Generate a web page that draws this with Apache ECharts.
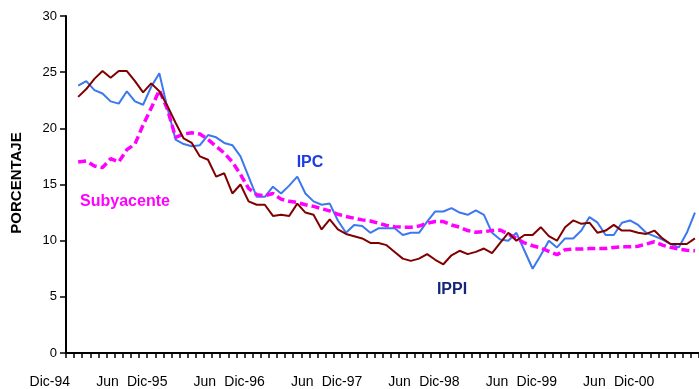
<!DOCTYPE html>
<html>
<head>
<meta charset="utf-8">
<script src="https://cdn.jsdelivr.net/npm/echarts@6/dist/echarts.min.js"></script>
<style>
  html, body { margin: 0; padding: 0; background: #fff; }
  #chart { width: 699px; height: 389px; }
</style>
</head>
<body>
<div id="chart"></div>
<script>
// Monthly categories, Dec-1994 .. May-2001
const monthNames = ['Ene','Feb','Mar','Abr','May','Jun','Jul','Ago','Sep','Oct','Nov','Dic'];
const categories = [];
for (let i = 0; i < 78; i++) {
  const m = (11 + i) % 12;
  const y = (94 + Math.floor((11 + i) / 12)) % 100;
  categories.push(monthNames[m] + '-' + String(y).padStart(2, '0'));
}

// One label every six months
const tickLabels = ['Dic-94','Jun','Dic-95','Jun','Dic-96','Jun','Dic-97','Jun','Dic-98','Jun','Dic-99','Jun','Dic-00'];

// Annual variation (%)
const ipc = [null,
  23.8, 24.2, 23.4, 23.1, 22.4, 22.2, 23.3, 22.4, 22.1, 23.7,
  24.9, 21.8, 19.0, 18.6, 18.4, 18.5, 19.4, 19.2, 18.7, 18.5,
  17.5, 15.7, 13.9, 13.9, 14.8, 14.2, 14.9, 15.7, 14.2, 13.5,
  13.2, 13.3, 11.8, 10.7, 11.4, 11.3, 10.7, 11.1, 11.1, 11.1,
  10.5, 10.7, 10.7, 11.7, 12.6, 12.6, 12.9, 12.5, 12.3, 12.7,
  12.3, 10.7, 10.1, 10.0, 10.7, 9.1, 7.5, 8.7, 10.0, 9.4,
  10.2, 10.2, 10.9, 12.1, 11.6, 10.5, 10.5, 11.6, 11.8, 11.4,
  10.7, 10.4, 10.1, 9.7, 9.4, 10.7, 12.5];

const ippi = [null,
  22.8, 23.5, 24.4, 25.1, 24.5, 25.1, 25.1, 24.2, 23.2, 24.0,
  23.3, 22.0, 20.5, 19.1, 18.7, 17.5, 17.2, 15.7, 16.0, 14.2,
  15.0, 13.5, 13.2, 13.2, 12.2, 12.3, 12.2, 13.3, 12.5, 12.3,
  11.0, 11.9, 11.0, 10.6, 10.4, 10.2, 9.8, 9.8, 9.6, 9.0,
  8.4, 8.2, 8.4, 8.8, 8.3, 7.9, 8.7, 9.1, 8.8, 9.0,
  9.3, 8.9, 9.8, 10.7, 10.0, 10.5, 10.5, 11.2, 10.4, 10.0,
  11.2, 11.8, 11.5, 11.6, 10.7, 10.9, 11.4, 10.9, 10.9, 10.7,
  10.6, 10.9, 10.2, 9.7, 9.7, 9.7, 10.2];

const subyacente = [null,
  17.0, 17.1, 16.65, 16.5, 17.3, 17.0, 18.1, 18.6, 20.3, 21.8,
  23.4, 21.7, 19.2, 19.5, 19.6, 19.5, 19.0, 18.4, 17.8, 17.0,
  15.9, 14.65, 14.1, 14.0, 14.2, 13.7, 13.5, 13.4, 13.2, 13.05,
  12.85, 12.65, 12.35, 12.15, 12.0, 11.85, 11.75, 11.55, 11.35, 11.25,
  11.2, 11.2, 11.3, 11.55, 11.7, 11.7, 11.4, 11.2, 10.9, 10.75,
  10.8, 10.9, 10.95, 10.6, 10.2, 9.8, 9.55, 9.35, 9.05, 8.75,
  9.2, 9.25, 9.25, 9.3, 9.3, 9.3, 9.4, 9.45, 9.45, 9.5,
  9.7, 9.9, 9.6, 9.4, 9.25, 9.15, 9.1];

const FONT = '"Liberation Sans", Arial, sans-serif';

const chart = echarts.init(document.getElementById('chart'), null, { renderer: 'canvas' });

chart.setOption({
  animation: false,
  backgroundColor: '#ffffff',
  grid: { left: 66, top: 16, width: 634, height: 338.5, containLabel: false },
  xAxis: {
    type: 'category',
    data: categories,
    boundaryGap: true,
    axisLine: { show: true, lineStyle: { color: '#000', width: 2 } },
    axisTick: { show: true, interval: 0, length: 5, lineStyle: { color: '#000', width: 1.5 } },
    axisLabel: {
      interval: 5,
      formatter: (v, i) => tickLabels[i / 6] || '',
      align: 'right',
      margin: 22,
      fontSize: 14,
      fontFamily: FONT,
      color: '#000'
    },
    splitLine: { show: false }
  },
  yAxis: {
    type: 'value',
    min: 0,
    max: 30,
    interval: 5,
    axisLine: { show: true, lineStyle: { color: '#000', width: 2 } },
    axisTick: { show: true, length: 6, lineStyle: { color: '#000', width: 1.5 } },
    axisLabel: { margin: 9, fontSize: 13, fontFamily: FONT, color: '#000' },
    splitLine: { show: false }
  },
  series: [
    {
      name: 'IPC', type: 'line', data: ipc, symbol: 'none', connectNulls: false,
      lineStyle: { color: '#3b78f0', width: 2 }, z: 2
    },
    {
      name: 'Subyacente', type: 'line', data: subyacente, symbol: 'none', connectNulls: false,
      lineStyle: { color: '#ff00ff', width: 3.5, type: [8, 4] }, z: 3
    },
    {
      name: 'IPPI', type: 'line', data: ippi, symbol: 'none', connectNulls: false,
      lineStyle: { color: '#800000', width: 2 }, z: 4
    }
  ],
  graphic: [
    {
      type: 'text', x: 17, y: 183, rotation: Math.PI / 2,
      style: { text: 'PORCENTAJE', font: 'bold 15px ' + FONT, fill: '#000', align: 'center', verticalAlign: 'middle' }
    },
    {
      type: 'text', x: 310, y: 163,
      style: { text: 'IPC', font: 'bold 16px ' + FONT, fill: '#1a3be6', align: 'center', verticalAlign: 'middle' }
    },
    {
      type: 'text', x: 125, y: 202,
      style: { text: 'Subyacente', font: 'bold 16px ' + FONT, fill: '#ff00ff', align: 'center', verticalAlign: 'middle' }
    },
    {
      type: 'text', x: 452, y: 290,
      style: { text: 'IPPI', font: 'bold 16px ' + FONT, fill: '#13267a', align: 'center', verticalAlign: 'middle' }
    }
  ]
});
</script>
</body>
</html>
